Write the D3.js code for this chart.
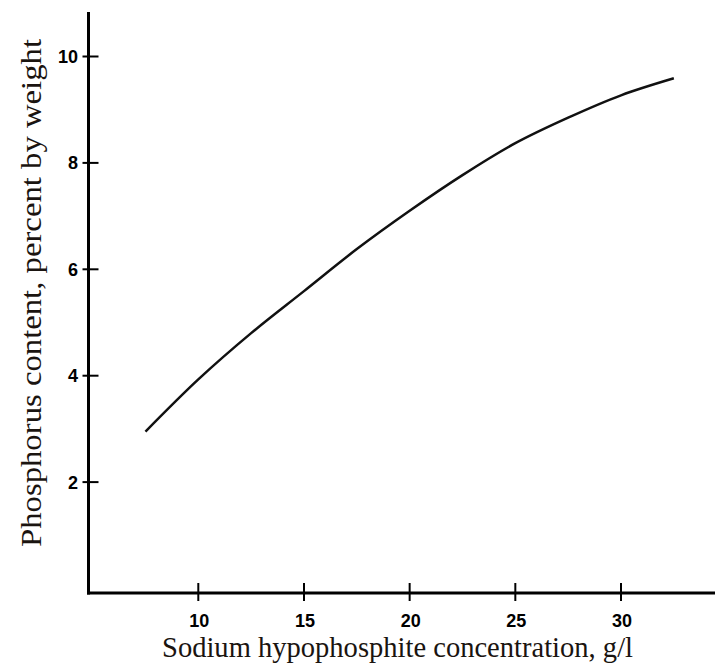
<!DOCTYPE html>
<html><head><meta charset="utf-8">
<script src="https://cdn.jsdelivr.net/npm/d3@7"></script>
<style>body{margin:0;background:#fff}svg{display:block}</style>
</head><body>
<script>
const concentration = [7.5, 10, 12.5, 15, 17.5, 20, 22.5, 25, 27.5, 30, 32.5];
const phosphorus    = [2.95, 3.93, 4.80, 5.59, 6.38, 7.10, 7.77, 8.37, 8.85, 9.27, 9.59];
const xTicks = [10, 15, 20, 25, 30];
const yTicks = [2, 4, 6, 8, 10];
const xTitle = "Sodium hypophosphite concentration, g/l";
const yTitle = "Phosphorus content, percent by weight";

const W = 715, H = 668;
const svg = d3.select("body").append("svg").attr("width", W).attr("height", H);

const x = d3.scaleLinear().domain([10, 30]).range([198.3, 621]);
const y = d3.scaleLinear().domain([2, 10]).range([482.1, 56.5]);

const axisX = 88.5, axisY = 593;

// axes lines
svg.append("line").attr("x1", axisX).attr("x2", axisX).attr("y1", 12).attr("y2", axisY + 1.5)
  .attr("stroke", "#000").attr("stroke-width", 3);
svg.append("line").attr("x1", axisX - 1.5).attr("x2", W).attr("y1", axisY).attr("y2", axisY)
  .attr("stroke", "#000").attr("stroke-width", 3);

const tickFont = "Liberation Sans, Arial, sans-serif";

// x ticks
const gx = svg.append("g");
gx.selectAll("line").data(xTicks).join("line")
  .attr("x1", d => x(d)).attr("x2", d => x(d)).attr("y1", axisY - 10).attr("y2", axisY + 8)
  .attr("stroke", "#000").attr("stroke-width", 2);
gx.selectAll("text").data(xTicks).join("text")
  .attr("x", d => x(d) + 1).attr("y", 627).attr("text-anchor", "middle")
  .attr("font-family", tickFont).attr("font-weight", "bold")
  .attr("font-size", 18).text(d => d);

// y ticks
const gy = svg.append("g");
gy.selectAll("line").data(yTicks).join("line")
  .attr("x1", axisX - 6).attr("x2", axisX + 10).attr("y1", d => y(d)).attr("y2", d => y(d))
  .attr("stroke", "#000").attr("stroke-width", 2);
gy.selectAll("text").data(yTicks).join("text")
  .attr("x", 78).attr("y", d => y(d) + 6.5).attr("text-anchor", "end")
  .attr("font-family", tickFont).attr("font-weight", "bold")
  .attr("font-size", 18).text(d => d);

// curve
const data = concentration.map((c, i) => [c, phosphorus[i]]);
svg.append("path").datum(data)
  .attr("d", d3.line().x(d => x(d[0])).y(d => y(d[1])).curve(d3.curveCatmullRom))
  .attr("fill", "none").attr("stroke", "#111").attr("stroke-width", 2.5);

// titles
const serif = "Liberation Serif, Times New Roman, serif";
svg.append("text").attr("x", 397.5).attr("y", 657).attr("text-anchor", "middle")
  .attr("font-family", serif).attr("font-size", 28.5)
  .attr("textLength", 471).attr("lengthAdjust", "spacingAndGlyphs")
  .attr("fill", "#1a1410").text(xTitle);
svg.append("text").attr("transform", "translate(41,293) rotate(-90)").attr("text-anchor", "middle")
  .attr("font-family", serif).attr("font-size", 29)
  .attr("textLength", 508).attr("lengthAdjust", "spacingAndGlyphs")
  .attr("fill", "#1a1410").text(yTitle);
</script>
</body></html>
